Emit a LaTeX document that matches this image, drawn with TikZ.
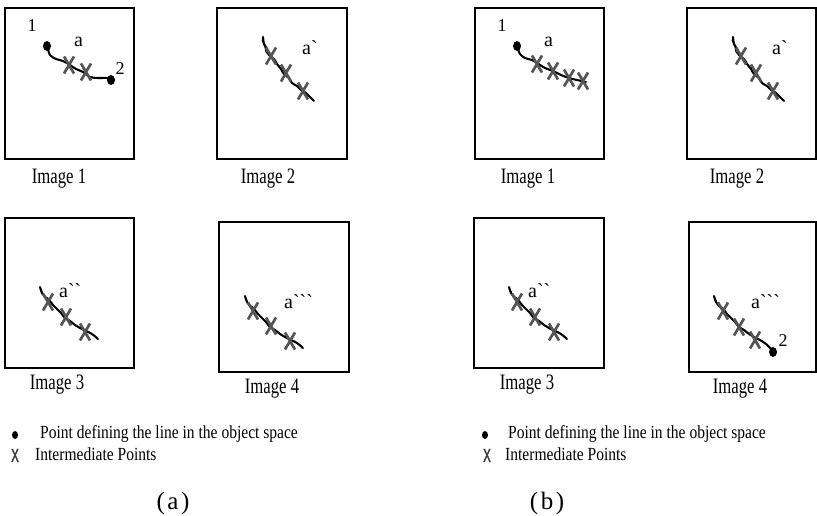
\documentclass[tikz,border=0pt]{standalone}
\usepackage{fontspec}
\setmainfont{Liberation Serif}
\newfontfamily\capfont[FakeStretch=0.76]{Liberation Serif}
\newfontfamily\legfont[FakeStretch=0.84]{Liberation Serif}
\newfontfamily\rawfont{Liberation Serif}
\newfontfamily\markfont[FakeStretch=0.62,FakeBold=1.5]{Liberation Sans}
\definecolor{xgray}{HTML}{555555}
\tikzset{
  frame/.style={draw=black, line width=1.2pt},
  curve/.style={draw=black, line width=2.1pt, line cap=round, line join=round},
  thincurve/.style={draw=black, line width=1pt, line cap=round},
  imglabel/.style={anchor=base, inner sep=0pt, font=\capfont\fontsize{22}{26}\selectfont},
  ptlabel/.style={anchor=base, inner sep=0pt, font=\rawfont\fontsize{18}{20}\selectfont},
  alabel/.style={anchor=base west, inner sep=0pt, font=\rawfont\fontsize{20}{22}\selectfont},
  legtext/.style={anchor=base west, inner sep=0pt, font=\legfont\fontsize{18.5}{20}\selectfont},
  legx/.style={anchor=base, inner sep=0pt, text=xgray!70!black, font=\markfont\fontsize{19}{20}\selectfont},
  sublabel/.style={anchor=base, inner sep=0pt, font=\fontsize{25}{30}\selectfont},
  xmark/.pic={\draw[xgray, line width=2.7pt] (-5,-8.5) -- (5,8.5) (-5,8.5) -- (5,-8.5);}
}
\newcommand{\wavetwo}{%
  \draw[curve] plot[smooth, tension=0.6] coordinates {(0,0) (1,7) (4,12) (6,18) (11,22) (14,27) (18,32) (21,37) (26,41) (29,46) (34,49) (38,53) (43,56) (47,60) (51,64)};
  \draw[thincurve] plot[smooth] coordinates {(-1,3) (2,10) (3,15) (8,20)};
  \pic at (8,19) {xmark}; \pic at (23,36) {xmark}; \pic at (40,54) {xmark};}
\newcommand{\wavethree}{%
  \draw[curve] plot[smooth, tension=0.6] coordinates {(0,0) (2,6) (5,10) (9,13) (13,18) (17,22) (21,26) (25,31) (30,34) (35,38) (40,41) (46,44) (52,47) (58,52)};
  \draw[thincurve] plot[smooth] coordinates {(1,2) (4,9) (8,11)};
  \pic at (8,15) {xmark}; \pic at (26,30) {xmark}; \pic at (45,45) {xmark};}
\begin{document}
\begin{tikzpicture}[x=1pt,y=-1pt]
\useasboundingbox (0,0) rectangle (817,516);
% frames
\draw[frame] (5,8) rectangle (134,159);
\draw[frame] (217,8) rectangle (347,159);
\draw[frame] (475,8) rectangle (604,159);
\draw[frame] (687,8) rectangle (816,159);
\draw[frame] (5,218) rectangle (134,368);
\draw[frame] (219,222) rectangle (349,372);
\draw[frame] (474,218) rectangle (604,368);
\draw[frame] (689,222) rectangle (816,372);
% image labels
\node[imglabel] (ia1) at (59,183) {Image 1};
\node[imglabel] (ia2) at (268,183) {Image 2};
\node[imglabel] (ib1) at (528,183) {Image 1};
\node[imglabel] (ib2) at (737,183) {Image 2};
\node[imglabel] (ia3) at (57,389) {Image 3};
\node[imglabel] (ia4) at (272,393) {Image 4};
\node[imglabel] (ib3) at (527,389) {Image 3};
\node[imglabel] (ib4) at (740,393) {Image 4};
% (a) Image 1
\coordinate (pa1) at (47,46);
\coordinate (pa2) at (111,80);
\draw[curve] plot[smooth] coordinates {(47,46) (50,55) (56,59) (63,61) (70,65) (76,69) (83,72) (90,77) (98,78) (107,78) (111,80)};
\fill (pa1) ellipse (4pt and 5pt);
\fill (pa2) ellipse (4pt and 5pt);
\pic at (69,65) {xmark}; \pic at (86,72) {xmark};
\node[ptlabel] (na1) at (32,32) {1};
\node[ptlabel] (na2) at (120,75) {2};
\node[alabel] (aa1) at (74,47) {a};
% (a) Image 2
\begin{scope}[shift={(263,37)}]\wavetwo\end{scope}
\node[alabel] (aa2) at (302,55) {a`};
% (b) Image 1
\coordinate (pb1) at (517,46);
\draw[curve] plot[smooth] coordinates {(517,46) (520,54) (525,58) (532,60) (537,63) (545,68) (553,71) (561,75) (569,78) (577,80) (586,82)};
\fill (pb1) ellipse (4pt and 5pt);
\pic at (537,64) {xmark}; \pic at (553,71) {xmark}; \pic at (569,78) {xmark}; \pic at (583,81) {xmark};
\node[ptlabel] (nb1) at (502,32) {1};
\node[alabel] (ab1) at (544,47) {a};
% (b) Image 2
\begin{scope}[shift={(733,37)}]\wavetwo\end{scope}
\node[alabel] (ab2) at (772,55) {a`};
% (a) Image 3
\begin{scope}[shift={(40,287)}]\wavethree\end{scope}
\node[alabel] (aa3) at (59,297) {a``};
% (a) Image 4
\begin{scope}[shift={(245,296)}]\wavethree\end{scope}
\node[alabel] (aa4) at (284,308) {a```};
% (b) Image 3
\begin{scope}[shift={(509,287)}]\wavethree\end{scope}
\node[alabel] (ab3) at (528,297) {a``};
% (b) Image 4
\coordinate (pb2) at (773,352);
\begin{scope}[shift={(714,296)}]
  \draw[curve] plot[smooth, tension=0.6] coordinates {(0,0) (2,6) (5,10) (9,13) (13,18) (17,22) (21,26) (25,31) (30,34) (35,38) (40,41) (46,44) (52,48) (57,53) (59,56)};
  \draw[thincurve] plot[smooth] coordinates {(1,2) (4,9) (8,11)};
\end{scope}
\fill (pb2) ellipse (4pt and 5pt);
\pic at (723,311) {xmark}; \pic at (739,327) {xmark}; \pic at (755,340) {xmark};
\node[alabel] (ab4) at (751,308) {a```};
\node[ptlabel] (nb2) at (783,346) {2};
% legends
\coordinate (lda) at (15,435);
\fill (lda) ellipse (3pt and 4pt);
\node[legtext] (lpa) at (40,438) {Point defining the line in the object space};
\node[legx] (lxa) at (15,462) {X};
\node[legtext] (lia) at (35,460) {Intermediate Points};
\node[sublabel] (suba) at (173,509) {(\kern2.5pt a\kern2.5pt)};
\coordinate (ldb) at (485,435);
\fill (ldb) ellipse (3pt and 4pt);
\node[legtext] (lpb) at (508,438) {Point defining the line in the object space};
\node[legx] (lxb) at (487,462) {X};
\node[legtext] (lib) at (505,460) {Intermediate Points};
\node[sublabel] (subb) at (547,509) {(\kern2.5pt b\kern2.5pt)};
\end{tikzpicture}
\end{document}
